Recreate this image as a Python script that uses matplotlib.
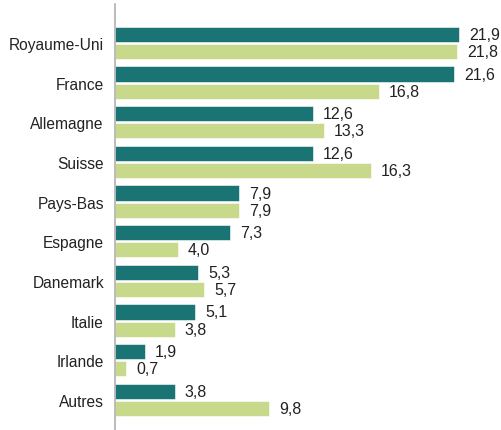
import matplotlib.pyplot as plt
import numpy as np

plt.rcParams['font.family'] = ['Liberation Sans', 'DejaVu Sans']

pays = ['Royaume-Uni', 'France', 'Allemagne', 'Suisse', 'Pays-Bas',
        'Espagne', 'Danemark', 'Italie', 'Irlande', 'Autres']
serie_a = [21.9, 21.6, 12.6, 12.6, 7.9, 7.3, 5.3, 5.1, 1.9, 3.8]
serie_b = [21.8, 16.8, 13.3, 16.3, 7.9, 4.0, 5.7, 3.8, 0.7, 9.8]

dark = '#1a7474'
light = '#c8d98b'

fig = plt.figure(figsize=(5.02, 4.31), dpi=100)
ax = fig.add_axes([115 / 502, 0, 387 / 502, 426 / 431])

y = np.arange(len(pays))
h = 0.38
off = 0.215
bars_a = ax.barh(y - off, serie_a, height=h, color=dark, edgecolor='white', linewidth=0.4)
bars_b = ax.barh(y + off, serie_b, height=h, color=light, edgecolor='white', linewidth=0.4)

for bars, vals in [(bars_a, serie_a), (bars_b, serie_b)]:
    for b, v in zip(bars, vals):
        ax.text(b.get_width() + 0.65, b.get_y() + b.get_height() / 2,
                f"{v:.1f}".replace('.', ','), va='center', ha='left',
                fontsize=11.5, color='#222222')

ax.set_yticks(y)
ax.set_yticklabels(pays, fontsize=11.2, color='#222222')
ax.tick_params(axis='y', length=0, pad=8)
ax.set_xticks([])
ax.set_xlim(0, 24.65)
ax.set_ylim(len(pays) - 1 + 0.76, -0.98)

for s in ['top', 'right', 'bottom']:
    ax.spines[s].set_visible(False)
ax.spines['left'].set_color('#b0b0b0')
ax.spines['left'].set_linewidth(1.2)

fig.savefig('out.png', dpi=100)
